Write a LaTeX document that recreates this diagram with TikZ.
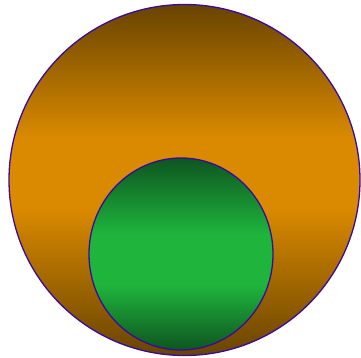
\documentclass[tikz,border=0pt]{standalone}
\usepackage{tikz}
\usetikzlibrary{shapes.geometric}

\definecolor{rimblue}{HTML}{3A0AA0}
\definecolor{darkbrown}{HTML}{684400}
\definecolor{ambre}{HTML}{DA8A00}
\definecolor{darkgreen}{HTML}{0E5520}
\definecolor{leafgreen}{HTML}{1FB53D}

\pgfdeclareverticalshading{ambreband}{100bp}{
  color(0bp)=(darkbrown); color(25bp)=(darkbrown);
  color(46bp)=(ambre); color(56bp)=(ambre);
  color(75bp)=(darkbrown); color(100bp)=(darkbrown)}
\pgfdeclareverticalshading{leafband}{100bp}{
  color(0bp)=(darkgreen); color(25bp)=(darkgreen);
  color(42bp)=(leafgreen); color(55bp)=(leafgreen);
  color(75bp)=(darkgreen); color(100bp)=(darkgreen)}

\tikzset{
  rim/.style={draw=rimblue,line width=1.3pt},
  outerdisc/.style={rim,shading=ambreband},
  innerdisc/.style={rim,shading=leafband}
}

\begin{document}
\begin{tikzpicture}[x=1pt,y=-1pt]
\useasboundingbox (0,0) rectangle (361,358);
% big disc
\node[outerdisc,circle,minimum size=351pt,inner sep=0pt] (outer) at (184.5,180) {};
% small disc
\node[innerdisc,ellipse,minimum width=184pt,minimum height=192pt,inner sep=0pt] (inner) at (181,254) {};
\end{tikzpicture}
\end{document}
